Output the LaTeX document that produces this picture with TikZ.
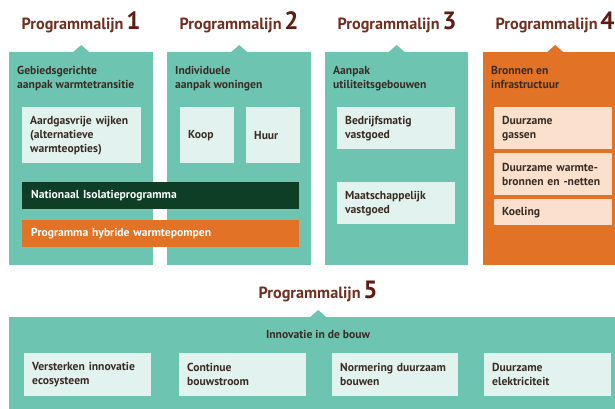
\documentclass[tikz,border=0pt]{standalone}
\usepackage{fontspec}
\setmainfont{PT Sans}
\usetikzlibrary{positioning}

\definecolor{plteal}{RGB}{109,197,177}
\definecolor{plmint}{RGB}{226,242,238}
\definecolor{plorange}{RGB}{225,114,38}
\definecolor{plpeach}{RGB}{251,225,205}
\definecolor{pldark}{RGB}{14,62,37}
\definecolor{pltext}{RGB}{58,44,36}
\definecolor{pltitlec}{RGB}{112,46,30}
\definecolor{plnum}{RGB}{96,28,18}

\newcommand{\txt}{\bfseries\fontsize{11.6}{14}\selectfont}
\newcommand{\plnr}[1]{{\color{plnum}\fontsize{25}{25}\selectfont #1}}

\tikzset{
	panel/.style={fill=#1, anchor=north west, inner sep=0pt},
	pltitle/.style={anchor=base, inner sep=0pt, text=pltitlec,
		font=\bfseries\fontsize{16.2}{17}\selectfont},
	head/.style={anchor=north west, inner sep=0pt, align=left, text=pltext, font=\txt},
	cell/.style={fill=#1, anchor=north west, inner xsep=8pt, inner ysep=0pt,
		align=left, text=pltext, font=\txt},
	bar/.style={fill=#1, anchor=north west, inner xsep=9pt, inner ysep=0pt,
		align=left, text=white, font=\txt, text width=259pt, minimum height=27pt}
}

\begin{document}
\begin{tikzpicture}[x=1pt,y=-1pt]
	\useasboundingbox (0,0) rectangle (615,409);
	\clip (0,0) rectangle (615,409);
	% panels
	\node[panel=plteal, minimum width=144pt, minimum height=213pt] (p1) at (9,52) {};
	\node[panel=plteal, minimum width=144pt, minimum height=213pt] (p2) at (167,52) {};
	\node[panel=plteal, minimum width=143pt, minimum height=213pt] (p3) at (325,52) {};
	\node[panel=plorange, minimum width=144pt, minimum height=213pt] (p4) at (483,52) {};
	\node[panel=plteal, minimum width=618pt, minimum height=100pt] (p5) at (9,317) {};
	\foreach \p/\c in {p1/plteal,p2/plteal,p3/plteal,p4/plorange,p5/plteal}
		\fill[\c] (\p.north) ++(-8,0) -- ++(8,-7) -- ++(8,7) -- cycle;
	% titles
	\node[pltitle] (t1) at (81,30) {Programmalijn\,\plnr{1}};
	\node[pltitle] (t2) at (239,30) {Programmalijn\,\plnr{2}};
	\node[pltitle] (t3) at (397,30) {Programmalijn\,\plnr{3}};
	\node[pltitle] (t4) at (555,30) {Programmalijn\,\plnr{4}};
	\node[pltitle] (t5) at (318,298) {Programmalijn\,\plnr{5}};
	% programmalijn 1 en 2
	\node[head] (h1) at (17,66) {Gebiedsgerichte\\aanpak warmtetransitie};
	\node[head] (h2) at (175,66) {Individuele\\aanpak woningen};
	\node[cell=plmint, text width=103pt, minimum height=56pt] (aardgas) at (22,107)
		{Aardgasvrije wijken\\(alternatieve\\warmteopties)};
	\node[cell=plmint, text width=38pt, minimum height=56pt] (koop) at (180,107) {Koop};
	\node[cell=plmint, text width=38pt, minimum height=56pt] (huur) at (246,107) {Huur};
	\node[bar=pldark] (nip) at (22,182) {Nationaal Isolatieprogramma};
	\node[bar=plorange] (hwp) at (22,220) {Programma hybride warmtepompen};
	% programmalijn 3
	\node[head] (h3) at (333,66) {Aanpak\\utiliteitsgebouwen};
	\node[cell=plmint, text width=102pt, minimum height=42pt] (bedrijf) at (337,107)
		{Bedrijfsmatig\\vastgoed};
	\node[cell=plmint, text width=102pt, minimum height=42pt] (maatsch) at (337,182)
		{Maatschappelijk\\vastgoed};
	% programmalijn 4
	\node[head] (h4) at (491,66) {Bronnen en\\infrastructuur};
	\node[cell=plpeach, text width=102pt, minimum height=42pt] (gassen) at (494,107)
		{Duurzame\\gassen};
	\node[cell=plpeach, text width=102pt, minimum height=42pt] (warmte) at (494,153)
		{Duurzame warmte-\\bronnen en -netten};
	\node[cell=plpeach, text width=102pt, minimum height=26pt] (koeling) at (494,199)
		{Koeling};
	% programmalijn 5
	\node[anchor=base, inner sep=0pt, text=pltext, font=\txt] (h5) at (318,338)
		{Innovatie in de bouw};
	\node[cell=plmint, text width=111pt, minimum height=43pt] (eco) at (24,353)
		{Versterken innovatie\\ecosysteem};
	\node[cell=plmint, text width=111pt, minimum height=43pt] (bouwstroom) at (179,353)
		{Continue\\bouwstroom};
	\node[cell=plmint, text width=110pt, minimum height=43pt] (normering) at (332,353)
		{Normering duurzaam\\bouwen};
	\node[cell=plmint, text width=111pt, minimum height=43pt] (elek) at (484,353)
		{Duurzame\\elektriciteit};
\end{tikzpicture}
\end{document}
